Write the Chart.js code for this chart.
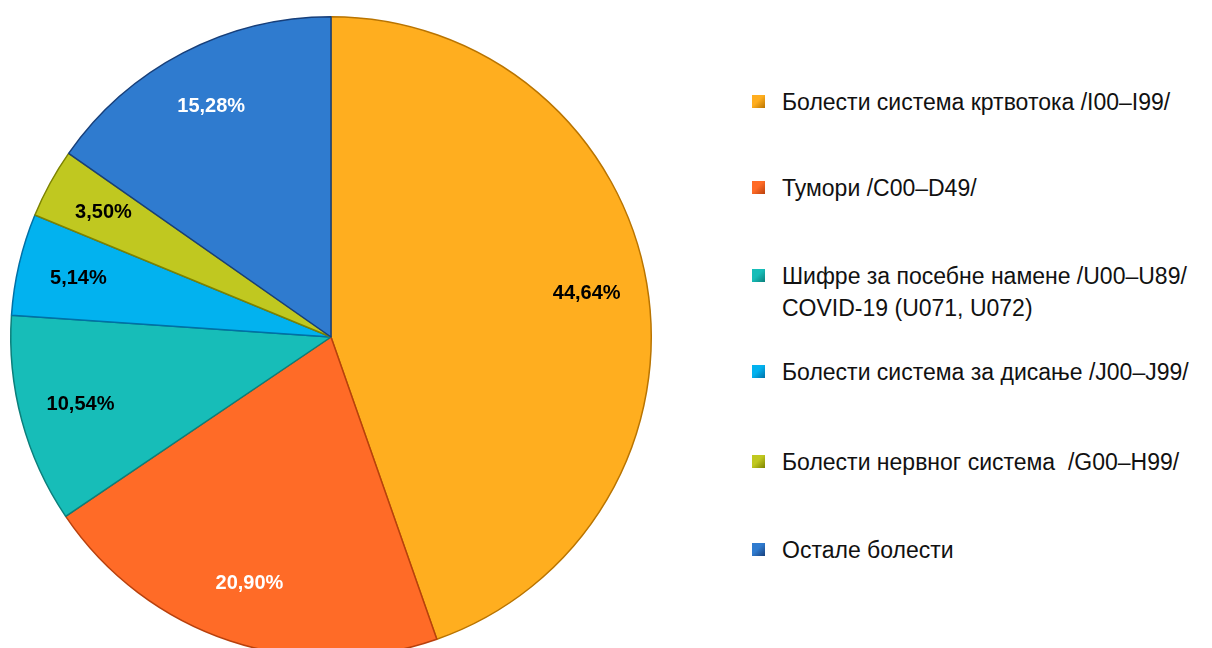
<!DOCTYPE html>
<html>
<head>
<meta charset="utf-8">
<script src="https://cdn.jsdelivr.net/npm/chart.js@4"></script>
<style>
  html, body { margin: 0; padding: 0; background: #fff; overflow: hidden; }
  body { width: 1212px; height: 648px; position: relative; font-family: "Liberation Sans", Arial, sans-serif; }
  #wrap { position: absolute; left: 0; top: 0; width: 662px; height: 674px; }
  #legend { position: absolute; left: 752px; top: 0; margin: 0; padding: 0; list-style: none; }
  #legend li { position: absolute; left: 0; display: flex; align-items: flex-start; white-space: pre; font-size: 23px; line-height: 32px; color: #111; }
  #legend .box { width: 13px; height: 13px; margin-top: 9px; margin-right: 17px; flex: none; }
</style>
</head>
<body>
<div id="wrap"><canvas id="myChart"></canvas></div>
<ul id="legend"></ul>
<script>
  const labels = [
    'Болести система кртвотока /I00–I99/',
    'Тумори /C00–D49/',
    'Шифре за посебне намене /U00–U89/\nCOVID-19 (U071, U072)',
    'Болести система за дисање /J00–J99/',
    'Болести нервног система  /G00–H99/',
    'Остале болести'
  ];
  const data = [44.64, 20.90, 10.54, 5.14, 3.50, 15.28];
  const colors = ['#ffae1f', '#ff6b27', '#17bdb8', '#02b2ef', '#c0c820', '#2f7bcf'];
  const edges = ['#b97400', '#b8400c', '#0b7f7b', '#0070a6', '#7d8300', '#173f7a'];
  const labelColors = ['#000', '#fff', '#000', '#000', '#000', '#fff'];

  const ctx = document.getElementById('myChart');

  const pctLabels = {
    id: 'pctLabels',
    afterDatasetsDraw(chart) {
      const c = chart.ctx;
      const arcs = chart.getDatasetMeta(0).data;
      c.save();
      c.font = 'bold 20px "Liberation Sans", Arial, sans-serif';
      c.textAlign = 'center';
      c.textBaseline = 'middle';
      arcs.forEach((arc, i) => {
        const mid = (arc.startAngle + arc.endAngle) / 2;
        const r = arc.outerRadius * 0.81;
        c.fillStyle = labelColors[i];
        c.fillText(data[i].toFixed(2).replace('.', ',') + '%', arc.x + Math.cos(mid) * r, arc.y + Math.sin(mid) * r);
      });
      c.restore();
    }
  };

  function shade(context) {
    const chart = context.chart;
    const arc = chart.getDatasetMeta(0).data[context.dataIndex];
    if (!arc || !arc.outerRadius) return colors[context.dataIndex];
    const g = chart.ctx.createRadialGradient(arc.x, arc.y, 0, arc.x, arc.y, arc.outerRadius);
    g.addColorStop(0, colors[context.dataIndex]);
    g.addColorStop(0.95, colors[context.dataIndex]);
    g.addColorStop(1, edges[context.dataIndex]);
    return g;
  }

  new Chart(ctx, {
    type: 'pie',
    data: {
      labels: labels,
      datasets: [{
        data: data,
        backgroundColor: shade,
        borderColor: edges,
        borderWidth: 1.5
      }]
    },
    options: {
      responsive: true,
      maintainAspectRatio: false,
      animation: false,
      layout: { padding: { left: 10, right: 10, top: 16, bottom: 16 } },
      plugins: {
        legend: { display: false },
        tooltip: { enabled: false }
      }
    },
    plugins: [pctLabels]
  });

  // legend on the right
  const legendTops = [86, 172, 260, 356, 446, 534];
  const ul = document.getElementById('legend');
  labels.forEach((t, i) => {
    const li = document.createElement('li');
    li.style.top = legendTops[i] + 'px';
    const box = document.createElement('span');
    box.className = 'box';
    box.style.background = 'linear-gradient(135deg, ' + colors[i] + ' 0%, ' + colors[i] + ' 45%, ' + edges[i] + ' 100%)';
    const txt = document.createElement('span');
    txt.textContent = t;
    li.appendChild(box);
    li.appendChild(txt);
    ul.appendChild(li);
  });
</script>
</body>
</html>
